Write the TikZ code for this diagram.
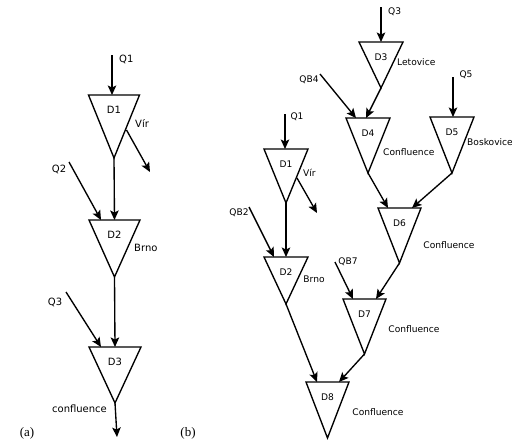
\documentclass[tikz,border=0pt]{standalone}
\usepackage{fontspec}
\setmainfont{Liberation Serif}
\newfontfamily\labfont{DejaVu Sans}
\usetikzlibrary{arrows.meta,calc}
\tikzset{
 tribox/.style={draw, line width=1.35pt, line join=miter},
 flow/.style={draw, line width=1.35pt, -{Stealth[length=9.5pt,width=8.5pt,inset=2pt]}},
 lbla/.style={font=\labfont\fontsize{10}{12}\selectfont, inner sep=0},
 lblb/.style={font=\labfont\fontsize{9.1}{10}\selectfont, inner sep=0},
 panel/.style={font=\fontsize{13}{15}\selectfont, inner sep=0},
}
\newcommand\tri[7]{%
 \coordinate (#1-t) at (#2,#3);
 \coordinate (#1-a) at (#2,#3+#5);
 \draw[tribox] (#2-#4,#3) -- (#2+#4,#3) -- (#1-a) -- cycle;
 \node[#7] (#1) at (#2,#3+15) {#6};
}
\begin{document}
\begin{tikzpicture}[x=1pt,y=-1pt]
\useasboundingbox (0,0) rectangle (512,445);
% ---------- panel (a)
\tri{aD1}{114}{95}{25.5}{63}{D1}{lbla}
\tri{aD2}{114.5}{220}{25.5}{57}{D2}{lbla}
\tri{aD3}{115}{347}{26}{56}{D3}{lbla}
\coordinate (aq1) at (112,55);
\coordinate (ao1) at (126.5,130);
\coordinate (ae1) at (150,172);
\coordinate (aq2) at (69,162);
\coordinate (aq3) at (66,292);
\coordinate (ae3) at (117,437);
\draw[flow] (aq1) -- ([xshift=-2pt]aD1-t);
\draw[flow] (ao1) -- (ae1);
\draw[flow] (aD1-a) -- (aD2-t);
\draw[flow] (aq2) -- ([xshift=-13.5pt]aD2-t);
\draw[flow] (aD2-a) -- (aD3-t);
\draw[flow] (aq3) -- ([xshift=-14pt]aD3-t);
\draw[flow] (aD3-a) -- (ae3);
\node[lbla, anchor=west] (la1) at (119,59) {Q1};
\node[lbla, anchor=west] (la2) at (135,123) {Vír};
\node[lbla] (la3) at (59,169) {Q2};
\node[lbla, anchor=west] (la4) at (134,248) {Brno};
\node[lbla] (la5) at (55,302) {Q3};
\node[lbla] (la6) at (79.5,409) {confluence};
\node[panel] (pa) at (27,433) {(a)};
% ---------- panel (b)
\tri{bD3}{381}{42}{22}{46}{D3}{lblb}
\tri{bD4}{368}{118}{22}{55}{D4}{lblb}
\tri{bD5}{452}{117}{22}{56}{D5}{lblb}
\tri{bD1}{286}{149}{22}{54}{D1}{lblb}
\tri{bD2}{286}{257}{22}{47}{D2}{lblb}
\tri{bD6}{399.5}{208}{21.5}{55}{D6}{lblb}
\tri{bD7}{364.5}{299}{21.5}{55}{D7}{lblb}
\tri{bD8}{327.5}{382}{21.5}{56}{D8}{lblb}
\coordinate (bq3) at (381,7);
\coordinate (bqb4) at (320,74);
\coordinate (bq5) at (453,77);
\coordinate (bq1) at (285,114);
\coordinate (bo1) at (297,178);
\coordinate (be1) at (317,213);
\coordinate (bqb2) at (249,207);
\coordinate (bqb7) at (335,262);
\draw[flow] (bq3) -- (bD3-t);
\draw[flow] (bD3-a) -- ([xshift=-2pt]bD4-t);
\draw[flow] (bqb4) -- ([xshift=-12pt]bD4-t);
\draw[flow] (bq5) -- ([xshift=1pt]bD5-t);
\draw[flow] (bD4-a) -- ([xshift=-11.5pt]bD6-t);
\draw[flow] (bD5-a) -- ([xshift=12.5pt]bD6-t);
\draw[flow] (bq1) -- ([xshift=-1pt]bD1-t);
\draw[flow] (bo1) -- (be1);
\draw[flow] (bD1-a) -- (bD2-t);
\draw[flow] (bqb2) -- ([xshift=-12pt]bD2-t);
\draw[flow] (bD2-a) -- ([xshift=-10.5pt]bD8-t);
\draw[flow] (bD6-a) -- ([xshift=11.5pt]bD7-t);
\draw[flow] (bqb7) -- ([xshift=-11.5pt]bD7-t);
\draw[flow] (bD7-a) -- ([xshift=11.5pt]bD8-t);
\node[lblb, anchor=west] (lb1) at (388,12) {Q3};
\node[lblb, anchor=west] (lb2) at (397,62) {Letovice};
\node[lblb] (lb3) at (309,80) {QB4};
\node[lblb] (lb4) at (466,75) {Q5};
\node[lblb, anchor=west] (lb5) at (467,142) {Boskovice};
\node[lblb, anchor=west] (lb6) at (383,152) {Confluence};
\node[lblb] (lb7) at (297,117) {Q1};
\node[lblb, anchor=west] (lb8) at (303,173) {Vír};
\node[lblb] (lb9) at (239,213) {QB2};
\node[lblb] (lb10) at (314,279) {Brno};
\node[lblb] (lb11) at (449,245) {Confluence};
\node[lblb] (lb12) at (348,262) {QB7};
\node[lblb] (lb13) at (414,329) {Confluence};
\node[lblb] (lb14) at (378,412) {Confluence};
\node[panel] (pb) at (188,433) {(b)};
\end{tikzpicture}
\end{document}
